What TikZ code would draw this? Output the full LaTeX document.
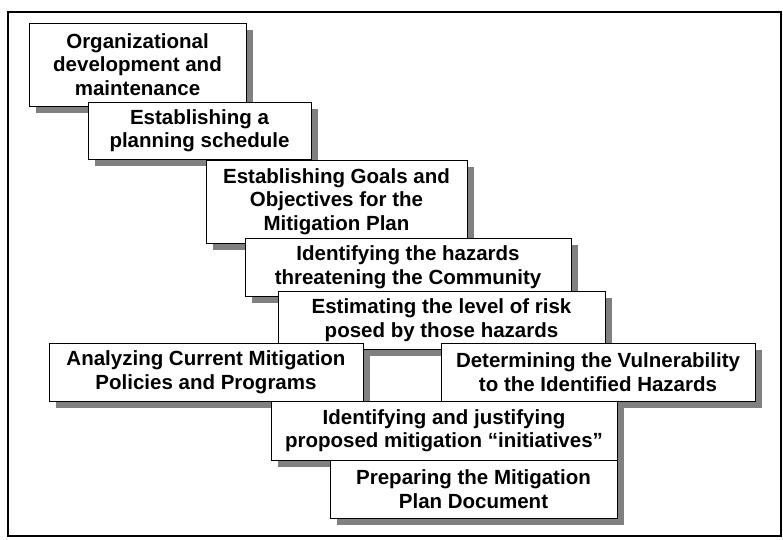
\documentclass[tikz,border=0pt]{standalone}
\usepackage{fontspec}
\setmainfont{Liberation Sans}
\usetikzlibrary{shadows}
\definecolor{shadowgray}{HTML}{808080}
\tikzset{
  stagebox/.style={draw=black, line width=0.9pt, fill=white, align=center,
    inner sep=0pt, font=\fontsize{20.5}{23.5}\selectfont\bfseries,
    drop shadow={shadow xshift=7pt, shadow yshift=-7pt, fill=shadowgray, opacity=1}}
}
\begin{document}
\begin{tikzpicture}[x=1pt,y=-1pt]
  \useasboundingbox (0,0) rectangle (783,539);
  % outer frame
  \draw[line width=1.6pt] (8,12) rectangle (781,536);
  % planning steps, top to bottom
  \node[stagebox, minimum width=217pt, minimum height=83pt] (org) at (137.5,64.5)
    {Organizational\\development and\\maintenance};
  \node[stagebox, minimum width=223pt, minimum height=57pt] (sched) at (199.5,130.5)
    {Establishing a\\planning schedule};
  \node[stagebox, minimum width=261pt, minimum height=83pt] (goals) at (336.5,201.5)
    {Establishing Goals and\\Objectives for the\\Mitigation Plan};
  \node[stagebox, minimum width=326pt, minimum height=58pt] (hazards) at (408,267)
    {Identifying the hazards\\threatening the Community};
  \node[stagebox, minimum width=327pt, minimum height=58pt] (risk) at (441.5,320)
    {Estimating the level of risk\\posed by those hazards};
  \node[stagebox, minimum width=314pt, minimum height=58pt] (policies) at (206,372)
    {Analyzing Current Mitigation\\Policies and Programs};
  \node[stagebox, minimum width=314pt, minimum height=58pt] (vuln) at (598,372)
    {Determining the Vulnerability\\to the Identified Hazards};
  \node[stagebox, minimum width=346pt, minimum height=59pt] (initiatives) at (444,430.5)
    {Identifying and justifying\\proposed mitigation “initiatives”};
  \node[stagebox, minimum width=287pt, minimum height=58pt] (document) at (473.5,489)
    {Preparing the Mitigation\\Plan Document};
\end{tikzpicture}
\end{document}
